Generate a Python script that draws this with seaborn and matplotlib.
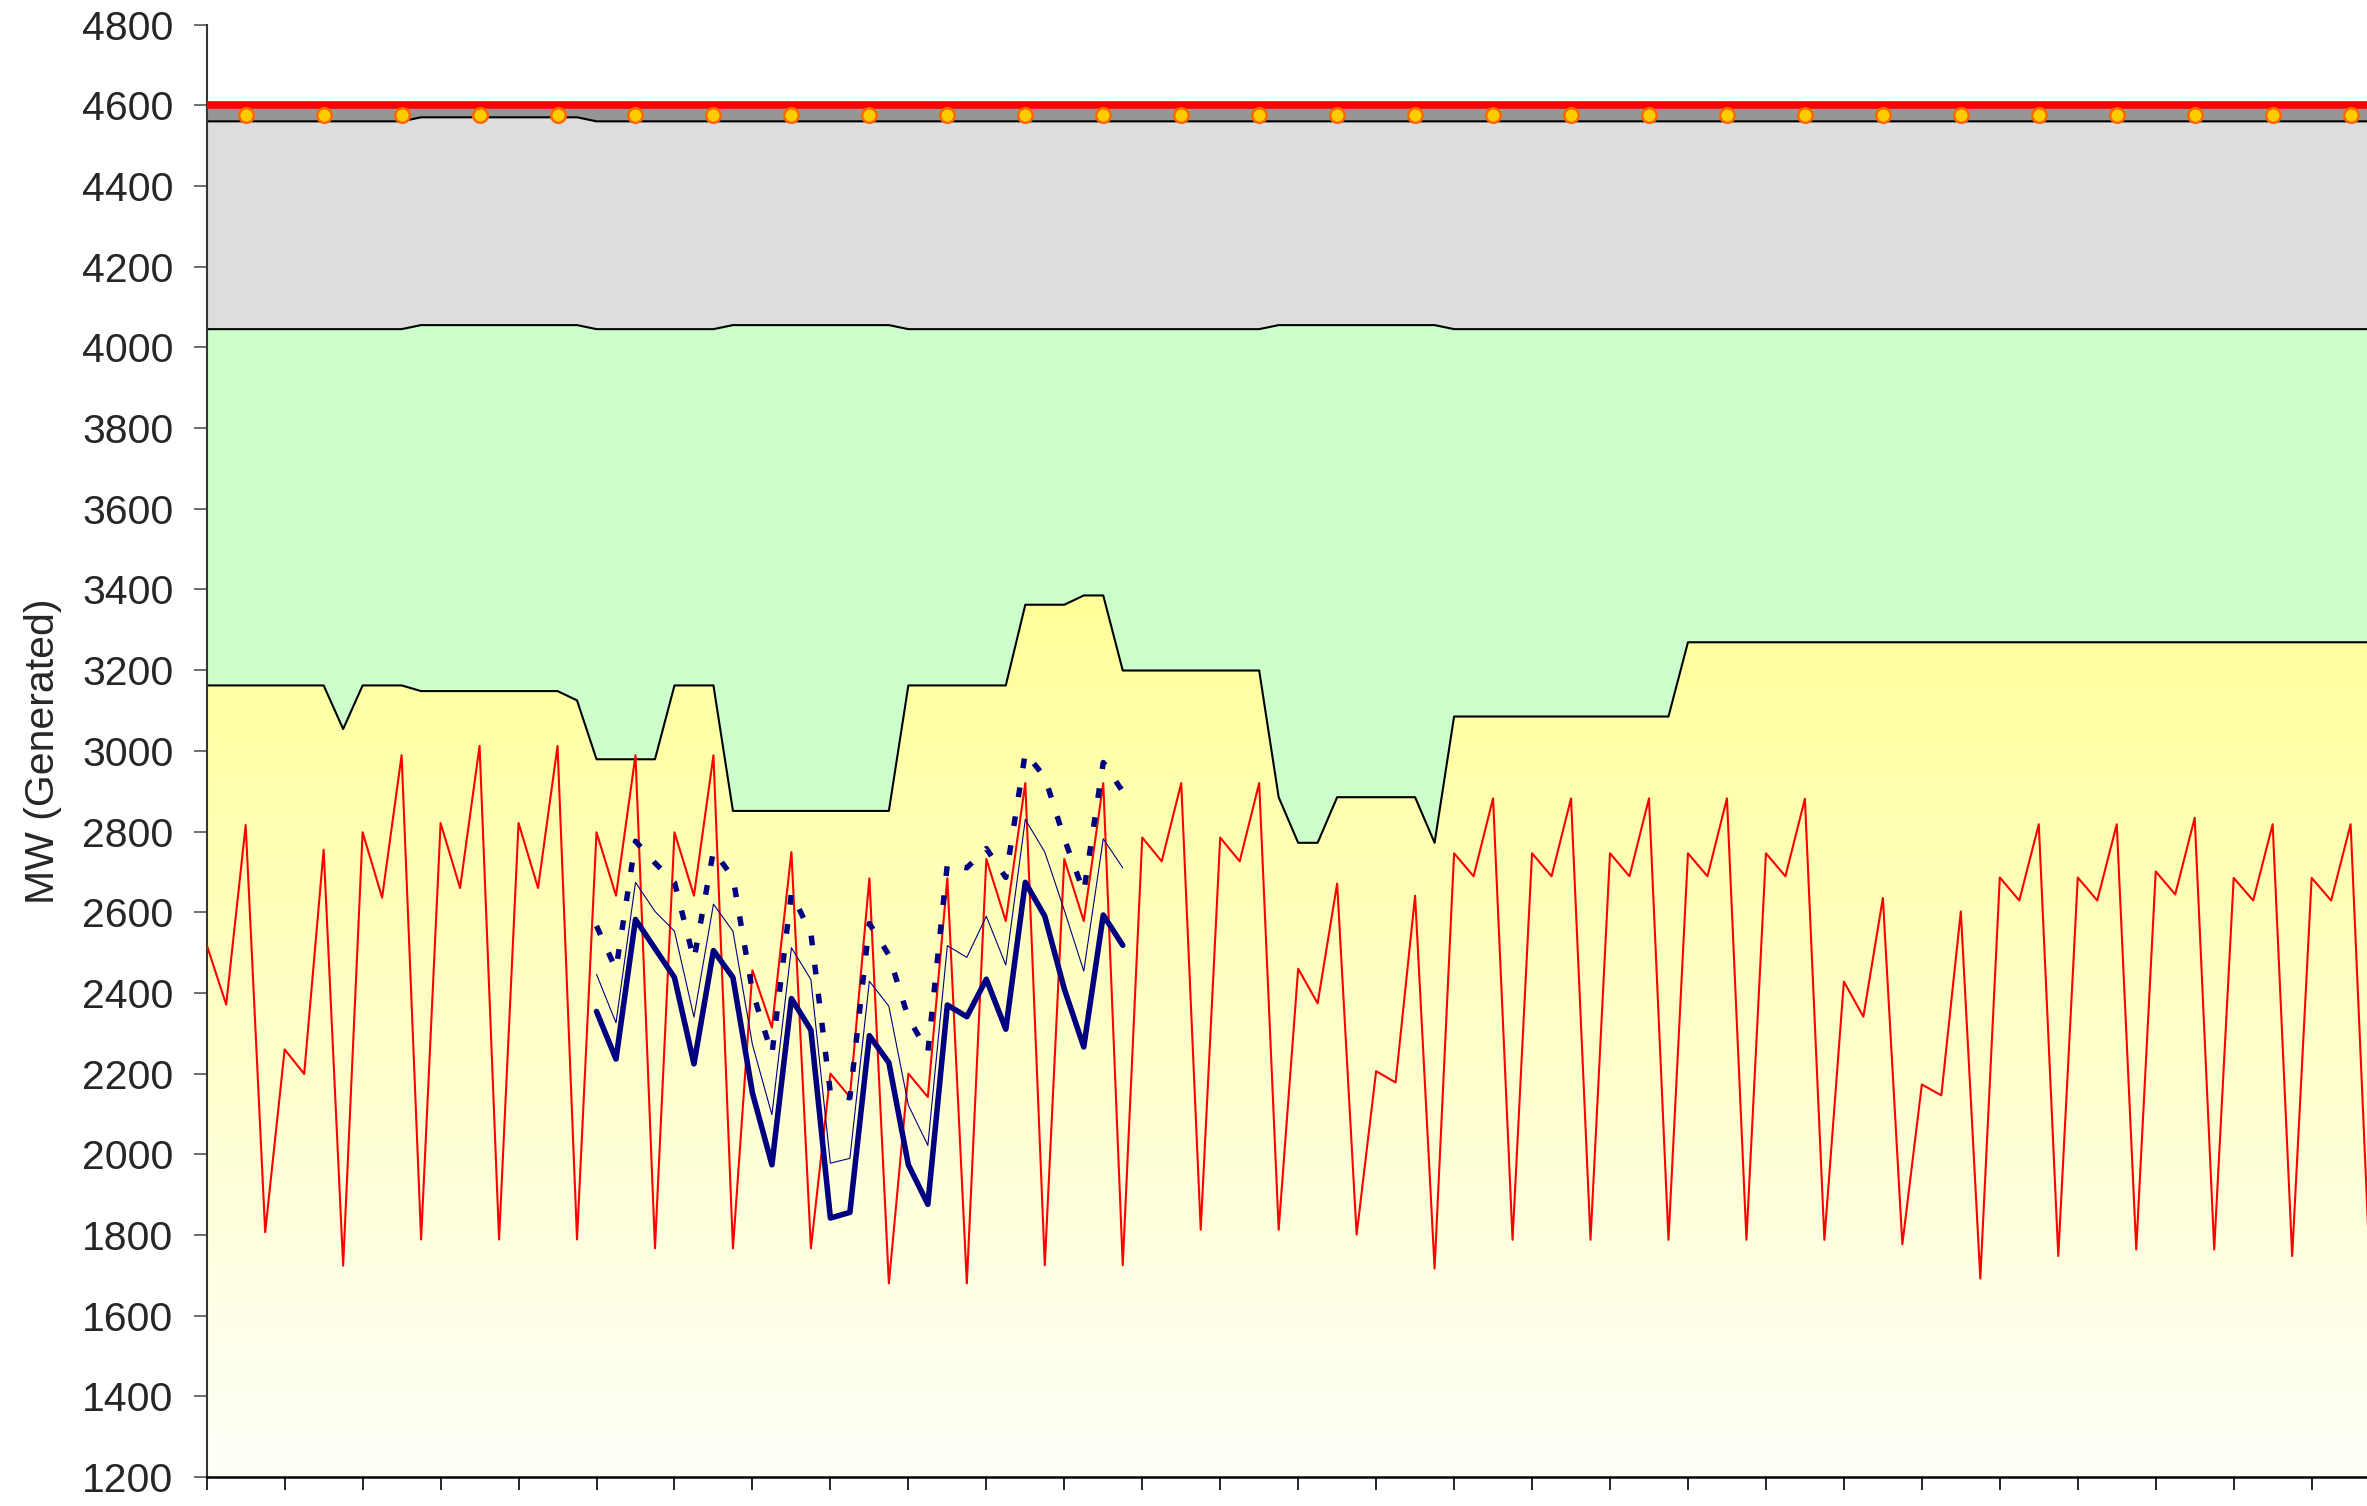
import numpy as np
import pandas as pd
import seaborn as sns
import matplotlib
matplotlib.use('Agg')
from matplotlib import pyplot as plt
from matplotlib.colors import LinearSegmentedColormap

# MW generados, 4 periodos por dia
generado = [2519, 2371, 2816, 1807, 2260, 2199, 2755, 1724,
            2798, 2636, 2989, 1789, 2821, 2660, 3012, 1789,
            2821, 2660, 3012, 1789, 2798, 2641, 2989, 1767,
            2798, 2641, 2989, 1767, 2456, 2314, 2749, 1767,
            2200, 2142, 2684, 1680, 2200, 2142, 2684, 1680,
            2732, 2578, 2920, 1725, 2732, 2578, 2920, 1725,
            2785, 2726, 2920, 1813, 2785, 2726, 2920, 1813,
            2460, 2374, 2671, 1801, 2206, 2178, 2641, 1717,
            2746, 2689, 2882, 1788, 2746, 2689, 2882, 1788,
            2746, 2689, 2882, 1788, 2746, 2689, 2882, 1788,
            2746, 2689, 2881, 1788, 2428, 2341, 2635, 1777,
            2173, 2146, 2602, 1692, 2686, 2629, 2818, 1748,
            2686, 2629, 2818, 1764, 2701, 2644, 2834, 1764,
            2685, 2629, 2818, 1748, 2685, 2629, 2818, 1700]

# techo de cada banda apilada
base_sup = ([3162] * 7 + [3054] + [3162] * 3 + [3148] * 8 + [3125] +
            [2979] * 4 + [3162] * 3 + [2851] * 9 + [3162] * 6 +
            [3362] * 3 + [3385] * 2 + [3199] * 8 + [2885] + [2772] * 2 +
            [2885] * 5 + [2772] + [3085] * 12 + [3269] * 36)
verde_sup = ([4045] * 11 + [4055] * 9 + [4045] * 7 + [4055] * 9 +
             [4045] * 19 + [4055] * 9 + [4045] * 48)
gris_sup = [4560] * 11 + [4570] * 9 + [4560] * 92
capacidad = [4600] * 112

# marcadores naranjas
marca_periodo = [2, 6, 10, 14, 18, 22, 26, 30, 34, 38, 42, 46, 50, 54,
                 58, 62, 66, 70, 74, 78, 82, 86, 90, 94, 98, 102, 106, 110]
marca_mw = [4575] * 28

# pronosticos (periodos 20 a 47)
pron_periodo = list(range(20, 48))
pron_grueso = [2354, 2236, 2582, 2510, 2438, 2224, 2505, 2438, 2152, 1974,
               2386, 2308, 1842, 1856, 2294, 2227, 1974, 1876, 2370, 2341,
               2434, 2310, 2674, 2590, 2410, 2266, 2593, 2518]
pron_fino = [2446, 2326, 2674, 2602, 2553, 2340, 2620, 2553, 2272, 2098,
             2512, 2433, 1978, 1990, 2429, 2367, 2122, 2022, 2517, 2488,
             2590, 2469, 2830, 2749, 2605, 2454, 2782, 2710]
pron_punteado = [2566, 2458, 2776, 2722, 2674, 2482, 2752, 2686, 2404, 2248,
                 2647, 2548, 2152, 2140, 2572, 2494, 2338, 2254, 2719, 2710,
                 2758, 2686, 2995, 2935, 2782, 2650, 2971, 2899]

df = pd.DataFrame({'periodo': range(len(generado)), 'mw': generado,
                   'base': base_sup, 'verde': verde_sup, 'gris': gris_sup,
                   'cap': capacidad})
pron = pd.DataFrame({'periodo': pron_periodo, 'grueso': pron_grueso,
                     'fino': pron_fino, 'punteado': pron_punteado})

sns.set_style('white')
plt.rcParams['font.family'] = ['Liberation Sans', 'DejaVu Sans']

fig = plt.figure(figsize=(23.67, 15.06), dpi=100)
ax = fig.add_axes([0.08733, 0.01919, 0.91267, 0.96454])

# banda amarilla con degradado
poly = ax.fill_between(df['periodo'], 1200, df['base'], facecolor='none', edgecolor='none')
amarillo = LinearSegmentedColormap.from_list('amarillo', ['#fffffa', '#ffff99'])
im = ax.imshow(np.linspace(0, 1, 256).reshape(-1, 1), cmap=amarillo, origin='lower',
               aspect='auto', extent=[0, 111, 1200, max(base_sup)], zorder=1)
im.set_clip_path(poly.get_paths()[0], transform=ax.transData)

ax.fill_between(df['periodo'], df['base'], df['verde'], color='#ccffcc', lw=0, zorder=1)
ax.fill_between(df['periodo'], df['verde'], df['gris'], color='#dddddd', lw=0, zorder=1)
ax.fill_between(df['periodo'], df['gris'], df['cap'], color='#969696', lw=0, zorder=1)

for col in ['base', 'verde', 'gris']:
    sns.lineplot(data=df, x='periodo', y=col, color='black', linewidth=1.5, ax=ax, zorder=2)

sns.lineplot(data=df, x='periodo', y='mw', color='#ff0000', linewidth=1.5, ax=ax, zorder=3)

sns.lineplot(data=pron, x='periodo', y='fino', color='#000080', linewidth=0.8, ax=ax, zorder=4)
sns.lineplot(data=pron, x='periodo', y='punteado', color='#000080', linewidth=3.9,
             linestyle=(0, (1.8, 3.6)), ax=ax, zorder=4)
sns.lineplot(data=pron, x='periodo', y='grueso', color='#000080', linewidth=4.0,
             ax=ax, zorder=4)

sns.lineplot(data=df, x='periodo', y='cap', color='#ff0000', linewidth=5.5,
             solid_capstyle='round', ax=ax, zorder=5)
sns.scatterplot(x=marca_periodo, y=marca_mw, s=110, color='#ffcc00',
                edgecolor='#ff6600', linewidth=1.8, ax=ax, zorder=6)

ax.set_xlim(0, 110.84)
ax.set_ylim(1200, 4800)
ax.set_xticks(range(0, 112, 4))
ax.set_xticklabels([])
ax.set_yticks(range(1200, 4801, 200))
ax.tick_params(axis='y', length=9.5, width=1.2, color='#555555', labelsize=29.5,
               pad=14.4, left=True, direction='out')
ax.tick_params(axis='x', length=9, width=1.2, color='black', bottom=True, direction='out')
ax.set_xlabel('')
ax.set_ylabel('MW (Generated)', fontsize=29.5)
ax.yaxis.set_label_coords(-0.067, 0.5)

ax.spines['top'].set_visible(False)
ax.spines['right'].set_visible(False)
ax.spines['left'].set_color('#333333')
ax.spines['left'].set_linewidth(1.5)
ax.spines['bottom'].set_color('black')
ax.spines['bottom'].set_linewidth(1.8)
ax.set_facecolor('white')

fig.savefig('out.png', dpi=100)
